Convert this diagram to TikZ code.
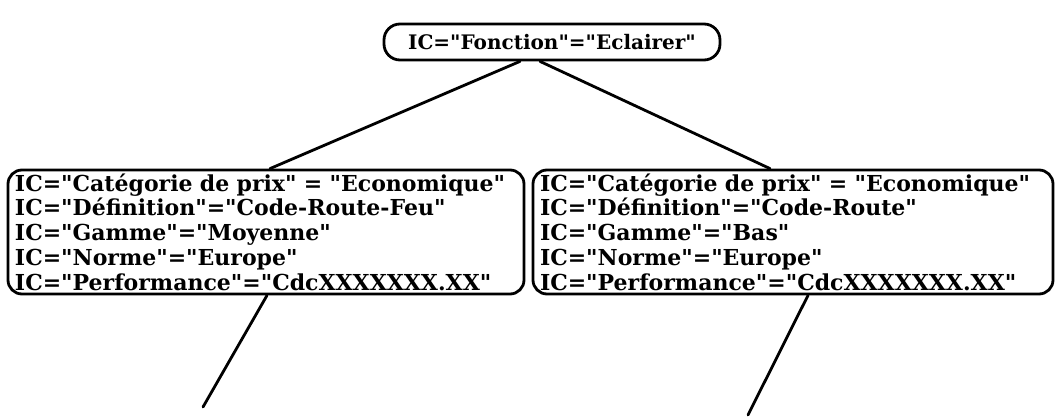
\documentclass[tikz,border=0pt]{standalone}
\usepackage{fontspec}
\setmainfont{DejaVu Serif}[Ligatures=TeXOff]
\usepackage{tikz}

\begin{document}
\begin{tikzpicture}[x=1pt,y=1pt,line width=2.8pt,
  crit/.style={draw,rounded corners=14pt,inner sep=0pt,align=left,
    font=\bfseries\fontsize{22}{24.7}\selectfont},
  branch/.style={line cap=round}]
\useasboundingbox (0,0) rectangle (1061,-419);
\node[crit,minimum width=336pt,minimum height=36pt,rounded corners=16pt,
   font=\bfseries\fontsize{20}{24}\selectfont] (fonction) at (552,-42)
   {IC="Fonction"="Eclairer"};
\node[crit,minimum width=516pt,minimum height=124pt,text width=502pt] (codefeu) at (266,-232)
   {IC="Catégorie de prix" = "Economique"\\
    IC="Définition"="Code-Route-Feu"\\
    IC="Gamme"="Moyenne"\\
    IC="Norme"="Europe"\\
    IC="Performance"="CdcXXXXXXX.XX"};
\node[crit,minimum width=520pt,minimum height=124pt,text width=506pt] (coderoute) at (793,-232)
   {IC="Catégorie de prix" = "Economique"\\
    IC="Définition"="Code-Route"\\
    IC="Gamme"="Bas"\\
    IC="Norme"="Europe"\\
    IC="Performance"="CdcXXXXXXX.XX"};
\coordinate (suiteA) at (203,-407);
\coordinate (suiteB) at (748,-415);
\draw[branch] ([xshift=-32pt]fonction.south) -- ([xshift=4pt]codefeu.north);
\draw[branch] ([xshift=-12pt]fonction.south) -- ([xshift=-23pt]coderoute.north);
\draw[branch] ([xshift=1pt]codefeu.south) -- (suiteA);
\draw[branch] ([xshift=15pt]coderoute.south) -- (suiteB);
\end{tikzpicture}
\end{document}
